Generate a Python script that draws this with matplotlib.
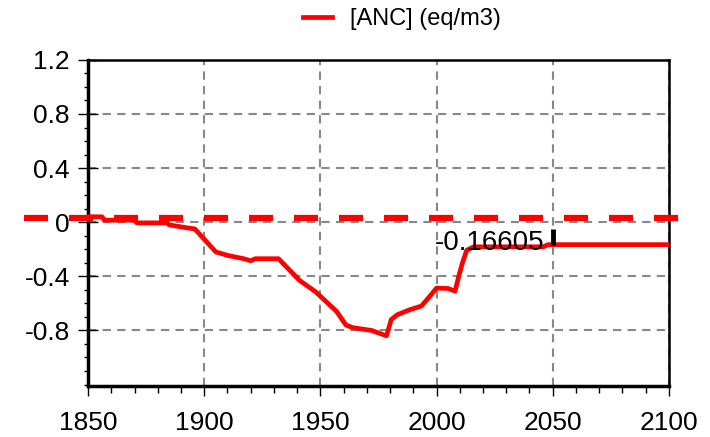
import matplotlib
matplotlib.use("Agg")
import matplotlib.pyplot as plt
from matplotlib.ticker import MultipleLocator, FixedLocator

plt.rcParams['font.family'] = ['Liberation Sans', 'DejaVu Sans']

# ANC time series
years = [1850, 1856, 1857, 1870, 1871, 1884, 1885, 1892, 1896, 1905, 1910,
         1917, 1920, 1922, 1932, 1941, 1948, 1957, 1961, 1964, 1972, 1978.5,
         1980.5, 1983, 1988.5, 1993.5, 1997, 2000, 2005, 2008, 2009.5, 2011,
         2013, 2016, 2046, 2048, 2050, 2100]
anc = [0.04, 0.04, 0.015, 0.015, -0.005, -0.005, -0.02, -0.04, -0.05, -0.22,
       -0.245, -0.27, -0.285, -0.27, -0.27, -0.43, -0.515, -0.66, -0.76, -0.78,
       -0.80, -0.84, -0.72, -0.685, -0.647, -0.62, -0.55, -0.487, -0.49, -0.51,
       -0.405, -0.31, -0.207, -0.182, -0.182, -0.166, -0.16605, -0.16605]

ref_level = 0.03          # red dashed reference line
mark_year = 2050
mark_value = -0.16605
mark_top = -0.05

x_ticks = [1850, 1900, 1950, 2000, 2050, 2100]
y_ticks = [1.2, 0.8, 0.4, 0, -0.4, -0.8]
y_labels = ['1.2', '0.8', '0.4', '0', '-0.4', '-0.8']

fig = plt.figure(figsize=(7.1, 4.37), dpi=100)
ax = fig.add_axes([0.124, 0.117, 0.818, 0.746])

ax.plot(years, anc, color='red', lw=3.4, label='[ANC] (eq/m3)', zorder=3)
ax.axhline(ref_level, xmin=-0.11, xmax=1.025, color='red', lw=4.5,
           linestyle=(0, (3.85, 3.35)), clip_on=False, zorder=4)
ax.vlines(mark_year, mark_value, mark_top, color='black', lw=3.5, zorder=5)
ax.annotate(f'{mark_value:.5f}', xy=(mark_year, mark_value),
            xytext=(-6, -4), textcoords='offset points',
            ha='right', va='baseline', fontsize=20, zorder=6)

ax.set_xlim(1850, 2100)
ax.set_ylim(-1.21, 1.2)
ax.xaxis.set_major_locator(FixedLocator(x_ticks))
ax.xaxis.set_minor_locator(MultipleLocator(10))
ax.yaxis.set_major_locator(FixedLocator(y_ticks))
ax.set_yticklabels(y_labels)
ax.yaxis.set_minor_locator(MultipleLocator(0.1))

ax.grid(True, which='major', color='#888888', linestyle=(0, (4, 3)), lw=1.5)

ax.tick_params(axis='both', which='major', labelsize=19)
ax.tick_params(axis='y', which='major', direction='inout', length=14, width=1, pad=6)
ax.tick_params(axis='y', which='minor', direction='out', length=3, width=1)
ax.tick_params(axis='x', which='major', direction='out', length=7, width=1, pad=11)
ax.tick_params(axis='x', which='minor', direction='out', length=5, width=1)

for side in ['left', 'bottom']:
    ax.spines[side].set_linewidth(2.5)
for side in ['top', 'right']:
    ax.spines[side].set_linewidth(1.8)

fig.legend(loc='center left', bbox_to_anchor=(0.427, 0.957), frameon=False,
           fontsize=17, handlelength=1.2, handletextpad=0.8,
           borderpad=0, borderaxespad=0)

plt.savefig('out.png', dpi=100)
